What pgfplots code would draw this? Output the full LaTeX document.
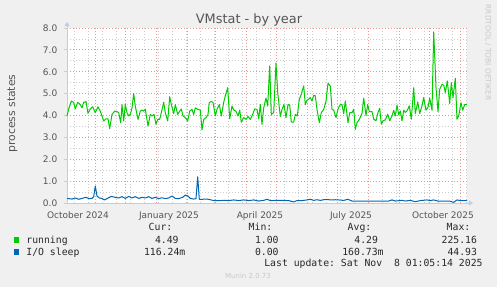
\documentclass[border=0pt]{standalone}
\usepackage{fontspec}
\setmainfont{DejaVu Sans}
\setmonofont{DejaVu Sans Mono}
\usepackage{pgfplots}
\pgfplotsset{compat=1.18}
\usetikzlibrary{arrows.meta}
\definecolor{bgc}{HTML}{F0F0F0}
\definecolor{runc}{HTML}{00CC00}
\definecolor{ioc}{HTML}{0066B3}
\definecolor{mgrid}{RGB}{235,150,150}
\definecolor{gridc}{RGB}{205,205,205}
\definecolor{axisc}{RGB}{195,202,240}
\definecolor{tickc}{RGB}{85,85,85}
\definecolor{legc}{RGB}{40,40,40}
\definecolor{wmc}{RGB}{200,200,200}
\begin{document}
\begin{tikzpicture}
\fill[bgc] (-67pt,-84pt) rectangle (430pt,203pt);
\begin{axis}[
  at={(0pt,0pt)}, anchor=south west,
  scale only axis, width=400pt, height=175pt,
  xmin=0, xmax=400, ymin=0, ymax=8,
  axis background/.style={fill=white},
  axis x line*=bottom, axis y line*=left,
  axis line style={draw=axisc, line width=0.8pt},
  x axis line style={-{Triangle[length=4pt,width=5pt]}, shorten >=-6pt},
  y axis line style={-{Triangle[length=4pt,width=5pt]}, shorten >=-6pt},
  xtick={11,102,193,284,376},
  xticklabels={October 2024,January 2025,April 2025,July 2025,October 2025},
  xtick style={draw=none},
  xmajorgrids=false,
  extra x ticks={28,58,89,120,148,179,209,240,270,301,332,362,393},
  extra x tick labels={},
  extra x tick style={xmajorgrids=true, tick style={draw=mgrid, line width=0.8pt}, major tick length=3pt, tick align=center},
  minor xtick={7,21,...,399},
  xminorgrids=true,
  ytick={0,1,...,8},
  minor ytick={0.5,1.5,...,7.5},
  ymajorgrids=true, yminorgrids=true,
  ytick style={draw=gridc, line width=0.8pt},
  major tick length=2.5pt, minor tick length=0pt, tick align=outside,
  major grid style={draw=mgrid, line width=0.8pt, dash pattern=on 1pt off 2pt},
  minor grid style={draw=gridc, line width=0.8pt, dash pattern=on 1pt off 2pt},
  /pgf/number format/assume math mode=true,
  yticklabel={\pgfmathprintnumber[fixed,fixed zerofill,precision=1]{\tick}},
  tick label style={font=\fontsize{9}{10}\selectfont, text=tickc, inner sep=0pt},
  xticklabel style={anchor=north},
  xticklabel shift=6pt,
  yticklabel style={anchor=east},
  yticklabel shift=7pt,
  clip=false,
]
\addplot[runc, line width=1pt, line join=round] coordinates {
(0,3.97)(1.7,4.3)(4.3,4.66)(6.7,4.6)(8.3,4.3)(10.7,4.6)(13.3,4.5)(15,4.35)(16.7,4.6)(19,4.64)(21,4.1)(23.3,4.3)(25.7,4.4)(28.3,4.13)(31,4.4)(33.3,4.2)(36.7,3.75)(39,3.85)(41,3.85)(42.7,3.4)(45,4.05)(47.7,4.2)(50,4.18)(51.7,4.13)(53.7,3.67)(55,4.5)(56.7,3.75)(58.3,4.5)(60,4.13)(61.7,3.98)(63.3,4.05)(65,4.35)(66.7,5.0)(68.3,4.43)(71,3.82)(73.3,4.2)(75,4.25)(76.7,4.2)(78.3,4.28)(81,3.52)(83.3,4.05)(85,3.98)(87,4.05)(89,3.6)(90.7,3.82)(92.7,3.82)(94.3,4.13)(96.7,4.6)(98.3,4.13)(100.7,3.75)(102.7,4.86)(104.3,4.5)(106.7,4.08)(108.3,4.5)(110.7,4.05)(112.7,4.2)(114.3,4.3)(116,3.98)(118.3,3.9)(120.7,3.75)(122.7,4.2)(125,4.28)(126.7,4.05)(128.3,4.35)(130.7,4.28)(133.3,4.25)(135,3.34)(136.7,3.82)(139,3.9)(141,4.05)(142.3,4.6)(144.3,4.64)(146,4.6)(148.3,3.98)(150,4.28)(152.3,4.5)(154.3,3.98)(156.7,4.6)(158.3,4.9)(160.7,5.27)(162.7,3.85)(165,4.43)(166.7,4.25)(169,4.2)(171,3.98)(172.7,4.25)(174.3,3.7)(176.7,3.9)(179,3.82)(181,3.95)(183.3,3.82)(185.7,4.05)(187.7,4.3)(190,4.28)(191.7,3.85)(193.3,4.5)(195,3.6)(196.7,4.35)(199,4.8)(200.7,4.43)(202.7,6.27)(204.3,4.05)(206.7,4.13)(209,6.4)(210.7,5.05)(213.3,3.95)(215,4.28)(217,4.5)(219,3.9)(221,4.5)(222.7,4.48)(224.3,3.7)(226.7,3.7)(228.3,4.05)(230.3,3.98)(232.3,4.74)(234.3,4.97)(236.7,5.35)(238.3,4.5)(240,4.7)(241.7,4.74)(243.3,4.82)(245,4.66)(246.7,4.92)(248.3,4.9)(250,4.28)(252.3,3.67)(254.3,4.13)(256.7,4.28)(259,4.66)(261,5.47)(263.3,5.35)(265,4.28)(266.7,4.25)(269,3.9)(271,4.3)(273.3,4.5)(275,4.5)(276.7,4.08)(278.3,4.66)(281,3.67)(282.7,4.13)(285,4.13)(286.7,4.28)(288.3,3.37)(290,3.67)(292.3,3.82)(295,4.1)(296.7,4.79)(299,4.0)(300.7,4.5)(302.3,4.18)(305,4.18)(306.7,3.83)(309,3.76)(311,4.14)(312.7,4.33)(314.3,3.6)(316,3.76)(318.3,3.8)(320.7,4.06)(322.7,3.76)(325,3.98)(326.7,4.24)(328.3,3.98)(330,4.47)(331.7,4.03)(333.3,4.21)(335,3.76)(336.7,4.24)(338.3,4.14)(340,4.21)(342.3,4.44)(344.3,3.83)(346.7,5.27)(348.3,4.09)(350.7,4.62)(352.7,4.09)(355,4.44)(356.7,4.82)(359,4.24)(361,4.39)(362.7,4.79)(365,4.24)(366.7,7.82)(369,5.27)(371,4.18)(372.7,5.2)(375,5.42)(376.7,5.39)(378.3,5.05)(380.3,5.58)(382.7,4.55)(384.3,5.5)(386,4.82)(388.3,5.7)(390,3.83)(391.7,3.98)(394,4.59)(395.7,4.24)(397.7,4.5)(400,4.49)
};
\addplot[ioc, line width=1pt, line join=round] coordinates {
(0,0.21)(5,0.18)(8.3,0.23)(11.7,0.17)(15,0.21)(19,0.26)(21.7,0.2)(25,0.21)(26.7,0.29)(28.3,0.77)(30,0.32)(32.3,0.23)(35,0.21)(37.3,0.14)(40,0.2)(44.3,0.3)(48.3,0.26)(51.7,0.23)(55,0.29)(58.3,0.21)(61.7,0.3)(65,0.23)(68.3,0.29)(71.7,0.21)(75,0.26)(78.3,0.23)(81.7,0.29)(85,0.21)(88.3,0.26)(91.7,0.2)(95,0.24)(98.3,0.2)(101.7,0.23)(105,0.32)(108.3,0.21)(111.7,0.2)(115.7,0.26)(118.3,0.36)(121,0.32)(123.3,0.21)(126.7,0.18)(129,0.2)(130.7,1.2)(132.3,0.17)(135,0.17)(140,0.18)(143.3,0.15)(146.7,0.11)(151.7,0.11)(158.3,0.12)(161.7,0.11)(166.7,0.14)(171.7,0.11)(176.7,0.14)(181.7,0.11)(186.7,0.14)(191.7,0.09)(196.7,0.12)(200,0.17)(203.3,0.11)(210,0.12)(216.7,0.12)(221.7,0.11)(226.7,0.05)(230,0.11)(235,0.11)(240,0.14)(243.3,0.17)(246.7,0.12)(250,0.15)(253.3,0.12)(256.7,0.15)(261.7,0.15)(265,0.14)(268.3,0.15)(271.7,0.14)(276.7,0.12)(281,0.17)(285,0.09)(291.7,0.09)(301.7,0.09)(311.7,0.09)(321.7,0.09)(325,0.14)(328.3,0.09)(335,0.12)(338.3,0.09)(343.3,0.12)(348.3,0.06)(353.3,0.11)(360,0.14)(363.3,0.11)(366.7,0.14)(371.7,0.08)(378.3,0.09)(383.3,0.08)(386.7,0.03)(390,0.14)(393.3,0.11)(398.3,0.11)(400,0.12)
};
\end{axis}
% title and labels
\node[anchor=base, text=tickc, font=\fontsize{12.9}{14}\selectfont, inner sep=0pt] at (182pt,179pt) {VMstat - by year};
\node[anchor=base, rotate=90, text=tickc, font=\fontsize{10.8}{12}\selectfont, inner sep=0pt] at (-52pt,89.5pt) {process states};
\node[rotate=-90, text=wmc, font=\fontsize{7.4}{8}\selectfont, inner sep=0pt] at (421pt,150.5pt) {RRDTOOL / TOBI OETIKER};
% legend
\begin{scope}[every node/.style={inner sep=0pt, text=legc, font=\ttfamily\fontsize{9.8}{11}\selectfont}]
\node[anchor=base east] at (105.5pt,-27.7pt) {Cur:};
\node[anchor=base east] at (205.5pt,-27.7pt) {Min:};
\node[anchor=base east] at (304.5pt,-27.7pt) {Avg:};
\node[anchor=base east] at (403.5pt,-27.7pt) {Max:};
\fill[runc] (-53pt,-39.7pt) rectangle (-47.5pt,-34.2pt);
\node[anchor=base west] at (-40.8pt,-40.3pt) {running};
\node[anchor=base east] at (111.8pt,-40.3pt) {4.49};
\node[anchor=base east] at (211.8pt,-40.3pt) {1.00};
\node[anchor=base east] at (311.2pt,-40.3pt) {4.29};
\node[anchor=base east] at (410.2pt,-40.3pt) {225.16};
\fill[ioc] (-53pt,-51.7pt) rectangle (-47.5pt,-46.2pt);
\node[anchor=base west] at (-40.8pt,-52pt) {I/O sleep};
\node[anchor=base east] at (118.5pt,-52pt) {116.24m};
\node[anchor=base east] at (211.8pt,-52pt) {0.00};
\node[anchor=base east] at (316.8pt,-52pt) {160.73m};
\node[anchor=base east] at (410.2pt,-52pt) {44.93};
\node[anchor=base east] at (415.8pt,-63.7pt) {Last update: Sat Nov\ \ 8 01:05:14 2025};
\end{scope}
\node[text=wmc, font=\fontsize{7}{8}\selectfont, inner sep=0pt] at (181pt,-73pt) {Munin 2.0.73};
\pgfresetboundingbox
\path (-67pt,-84pt) rectangle (430pt,203pt);
\end{tikzpicture}
\end{document}
